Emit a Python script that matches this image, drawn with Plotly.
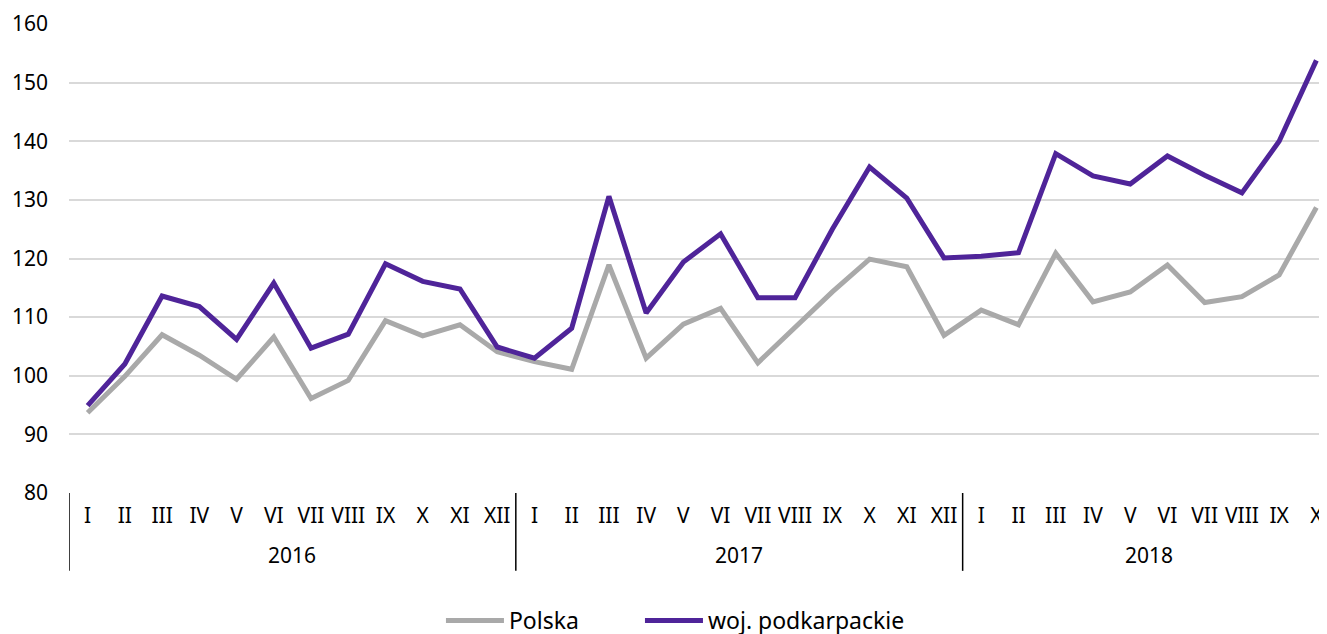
import plotly.graph_objects as go

months_2016 = ["I", "II", "III", "IV", "V", "VI", "VII", "VIII", "IX", "X", "XI", "XII"]
months_2017 = ["I", "II", "III", "IV", "V", "VI", "VII", "VIII", "IX", "X", "XI", "XII"]
months_2018 = ["I", "II", "III", "IV", "V", "VI", "VII", "VIII", "IX", "X"]
years = ["2016", "2017", "2018"]

polska = [93.7, 99.9, 107.0, 103.5, 99.4, 106.6, 96.1, 99.2, 109.4, 106.8, 108.7, 104.1,
          102.4, 101.1, 118.9, 103.0, 108.8, 111.5, 102.2, 108.3, 114.3, 119.9, 118.6, 106.9,
          111.2, 108.7, 120.9, 112.6, 114.3, 118.9, 112.5, 113.5, 117.2, 128.7]
podkarpackie = [94.9, 102.0, 113.6, 111.8, 106.2, 115.8, 104.7, 107.1, 119.1, 116.1, 114.8, 104.9,
                103.0, 108.1, 130.6, 110.7, 119.4, 124.2, 113.3, 113.3, 125.0, 135.6, 130.3, 120.1,
                120.4, 121.0, 137.9, 134.1, 132.7, 137.5, 134.2, 131.2, 140.0, 153.8]

labels = months_2016 + months_2017 + months_2018
xs = list(range(len(labels)))
group_sizes = [len(months_2016), len(months_2017), len(months_2018)]

FONT = "Noto Sans"
FS = 21
fig = go.Figure()
fig.add_trace(go.Scatter(x=xs, y=polska, mode="lines", name="Polska",
                         line=dict(color="#A9A9A9", width=5), legend="legend"))
fig.add_trace(go.Scatter(x=xs, y=podkarpackie, mode="lines", name="woj. podkarpackie",
                         line=dict(color="#4F2499", width=5), legend="legend2"))

# year separators and year labels
start = 0
bounds = [-0.5]
for yr, n in zip(years, group_sizes):
    center = start + (n - 1) / 2
    fig.add_annotation(x=center, xref="x", y=-0.132, yref="paper", text=yr,
                       showarrow=False, font=dict(family=FONT, size=FS, color="#000000"),
                       yanchor="middle")
    start += n
    bounds.append(start - 0.5)
for b in bounds[:-1]:
    fig.add_shape(type="line", xref="x", yref="paper", x0=b, x1=b, y0=0, y1=-0.166,
                  line=dict(color="#000000", width=1.5))

# reference line at 100
fig.add_shape(type="line", xref="paper", yref="y", x0=0, x1=1, y0=100, y1=100,
              line=dict(color="#000000", width=1.5), layer="below")

leg_common = dict(orientation="h", y=-0.273, yanchor="middle", xanchor="left",
                  font=dict(family=FONT, size=23), bgcolor="rgba(0,0,0,0)", itemwidth=58)
fig.update_layout(
    width=1327, height=634,
    margin=dict(l=61, r=0, t=16, b=149),
    paper_bgcolor="white", plot_bgcolor="white",
    font=dict(family=FONT, size=FS, color="#000000"),
    showlegend=True,
    legend=dict(x=0.2938, **leg_common),
    legend2=dict(x=0.451, **leg_common),
    xaxis=dict(range=[-0.5, 33.5], tickmode="array", tickvals=xs, ticktext=labels,
               showgrid=False, zeroline=False, showline=False, ticks="",
               ticklabelstandoff=8, ticklabeloverflow="allow",
               tickfont=dict(family=FONT, size=FS)),
    yaxis=dict(range=[80, 160], tickmode="array", tickvals=list(range(80, 161, 10)),
               showgrid=True, gridcolor="#D9D9D9", gridwidth=1.5, zeroline=False,
               showline=False, ticks="", ticklabelstandoff=20,
               tickfont=dict(family=FONT, size=FS)),
)

fig.write_html("out.html")
